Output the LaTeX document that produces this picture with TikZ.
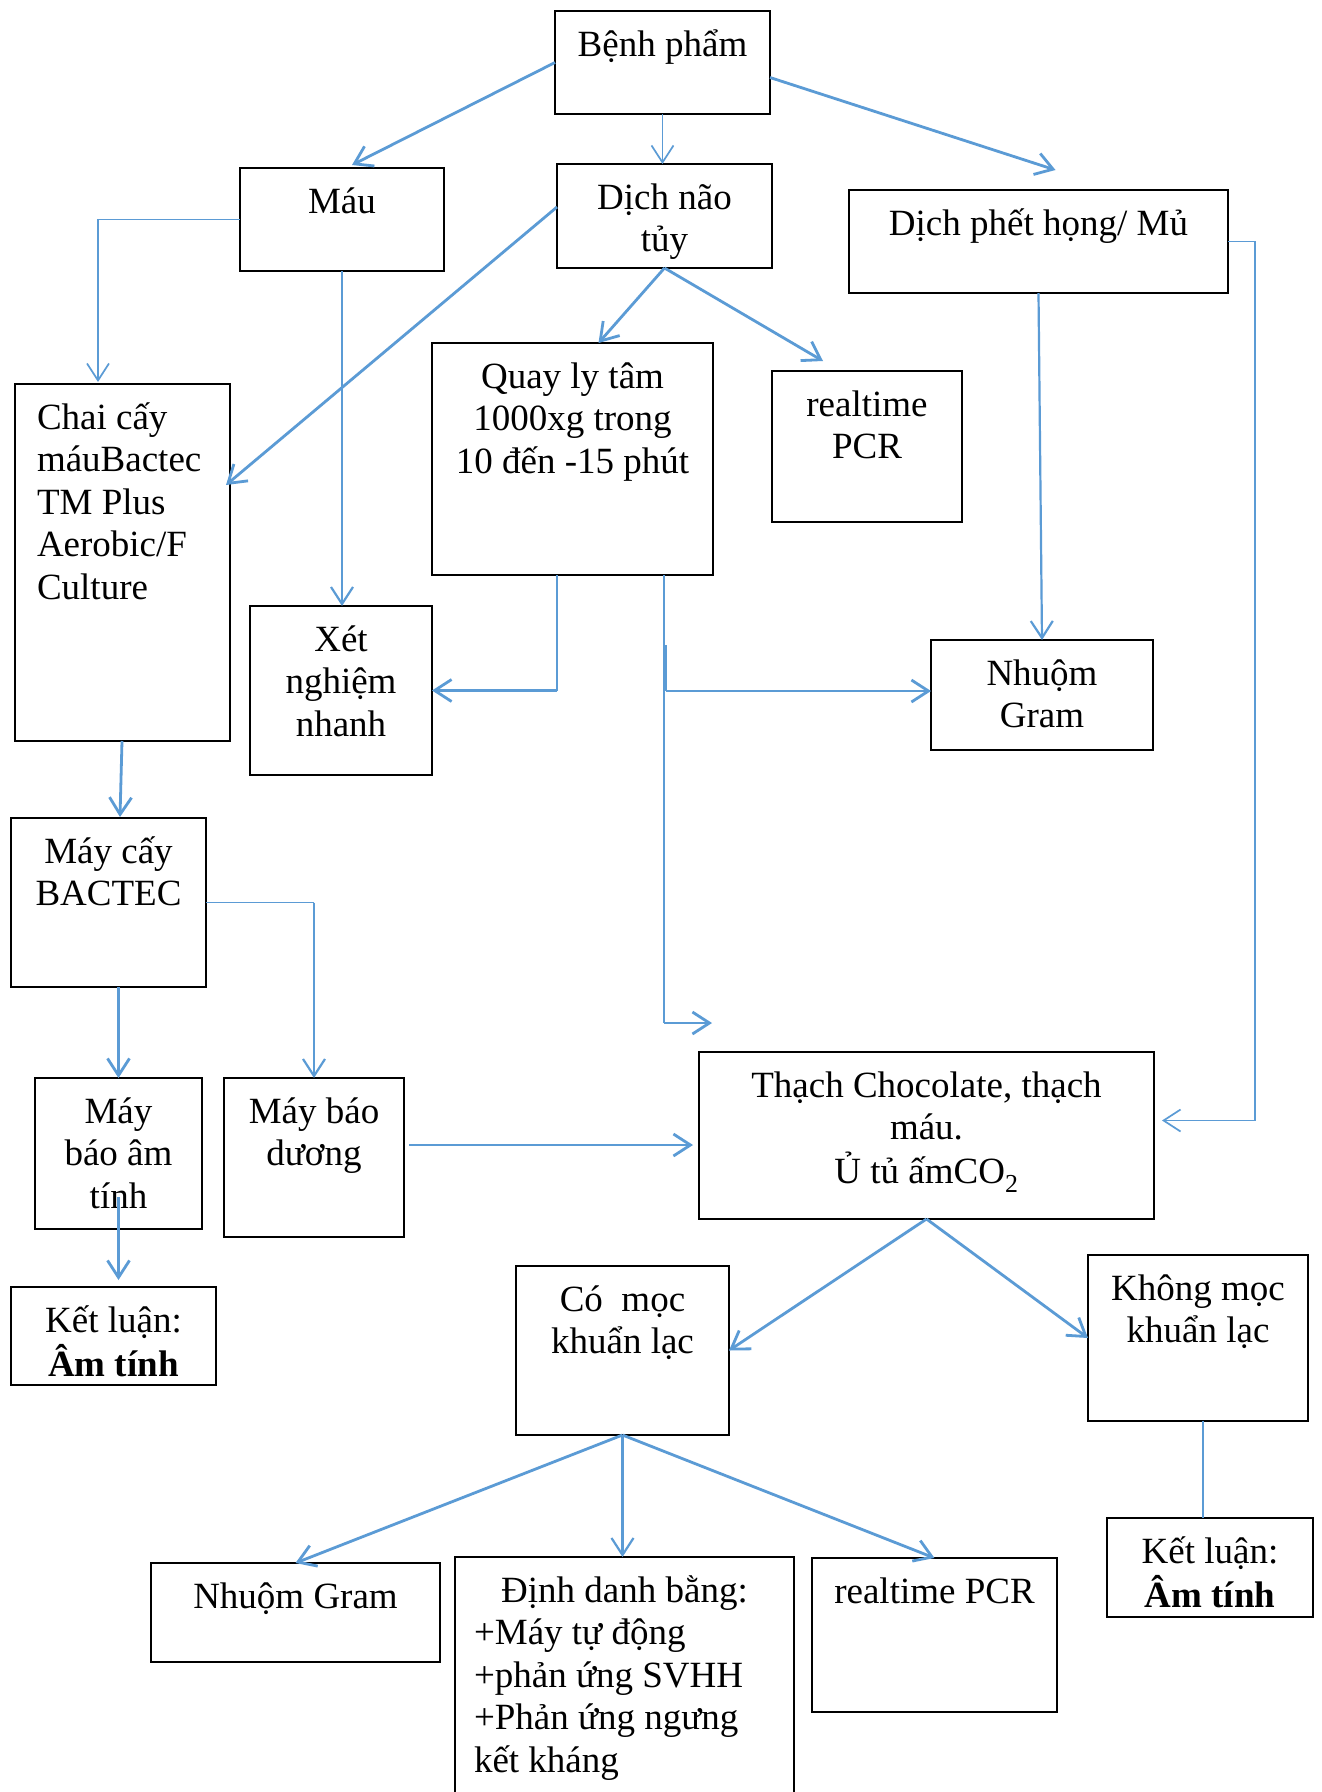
\documentclass[tikz,border=0pt]{standalone}
\usepackage{fontspec}
\setmainfont{Liberation Serif}
\usetikzlibrary{arrows.meta,calc}
\definecolor{linkblue}{RGB}{91,155,213}
% multi-line text whose baseline is that of its first line
\newcommand\mlc[1]{\begin{tabular}[t]{@{}c@{}}#1\end{tabular}}
\newcommand\mll[1]{\begin{tabular}[t]{@{}l@{}}#1\end{tabular}}
\begin{document}
\begin{tikzpicture}[x=1pt,y=-1pt,
  box/.style={draw=black, line width=2.2pt, inner sep=0pt, outer sep=0pt, anchor=north west},
  lbl/.style={inner sep=0pt, outer sep=0pt, anchor=base, font=\fontsize{37}{42.5}\selectfont},
  lbll/.style={lbl, anchor=base west},
  link/.style={draw=linkblue, line width=2.8pt},
  midlink/.style={draw=linkblue, line width=2.2pt},
  thinlink/.style={draw=linkblue, line width=1.7pt},
  pointer/.style={-{Straight Barb[length=17pt,width=22pt]}},
]
\useasboundingbox (0,0) rectangle (1322,1792);
\fill[white] (0,0) rectangle (1322,1792);
\clip (0,0) rectangle (1322,1792);

% ---- boxes ----
\node[box, minimum width=215pt, minimum height=103pt] (benh) at (555,11) {};
\node[box, minimum width=204pt, minimum height=103pt] (mau) at (240,168) {};
\node[box, minimum width=215pt, minimum height=104pt] (dnt) at (557,164) {};
\node[box, minimum width=379pt, minimum height=103pt] (dph) at (849,190) {};
\node[box, minimum width=215pt, minimum height=357pt] (chai) at (15,384) {};
\node[box, minimum width=281pt, minimum height=232pt] (quay) at (432,343) {};
\node[box, minimum width=190pt, minimum height=151pt] (pcra) at (772,371) {};
\node[box, minimum width=182pt, minimum height=169pt] (xet) at (250,606) {};
\node[box, minimum width=222pt, minimum height=110pt] (grama) at (931,640) {};
\node[box, minimum width=195pt, minimum height=169pt] (maycay) at (11,818) {};
\node[box, minimum width=167pt, minimum height=151pt] (baoam) at (35,1078) {};
\node[box, minimum width=180pt, minimum height=159pt] (baoduong) at (224,1078) {};
\node[box, minimum width=455pt, minimum height=167pt] (thach) at (699,1052) {};
\node[box, minimum width=205pt, minimum height=98pt] (kla) at (11,1287) {};
\node[box, minimum width=213pt, minimum height=169pt] (comoc) at (516,1266) {};
\node[box, minimum width=220pt, minimum height=166pt] (khongmoc) at (1088,1255) {};
\node[box, minimum width=206pt, minimum height=99pt] (klb) at (1107,1518) {};
\node[box, minimum width=289pt, minimum height=99pt] (gramb) at (151,1563) {};
\node[box, minimum width=339pt, minimum height=260pt] (dinh) at (455,1557) {};
\node[box, minimum width=245pt, minimum height=154pt] (pcrb) at (812,1558) {};

% ---- texts ----
\node[lbl] (benh-t) at ($(benh.north)+(0,45)$) {Bệnh phẩm};
\node[lbl] (mau-t) at ($(mau.north)+(0,45)$) {Máu};
\node[lbl] (dnt-t) at ($(dnt.north)+(0,45)$) {\mlc{Dịch não\\tủy}};
\node[lbl] (dph-t) at ($(dph.north)+(0,45)$) {Dịch phết họng/ Mủ};
\node[lbll] (chai-t) at ($(chai.north west)+(22,45)$) {\mll{Chai cấy\\máuBactec\\TM Plus\\Aerobic/F\\Culture}};
\node[lbl] (quay-t) at ($(quay.north)+(0,45)$) {\mlc{Quay ly tâm\\1000xg trong\\10 đến -15 phút}};
\node[lbl] (pcra-t) at ($(pcra.north)+(0,45)$) {\mlc{realtime\\PCR}};
\node[lbl] (xet-t) at ($(xet.north)+(0,45)$) {\mlc{Xét\\nghiệm\\nhanh}};
\node[lbl] (grama-t) at ($(grama.north)+(0,45)$) {\mlc{Nhuộm\\Gram}};
\node[lbl] (maycay-t) at ($(maycay.north)+(0,45)$) {\mlc{Máy cấy\\BACTEC}};
\node[lbl] (baoam-t) at ($(baoam.north)+(0,45)$) {\mlc{Máy\\báo âm\\tính}};
\node[lbl] (baoduong-t) at ($(baoduong.north)+(0,45)$) {\mlc{Máy báo\\dương}};
\node[lbl] (thach-t) at ($(thach.north)+(0,45)$) {\mlc{Thạch Chocolate, thạch\\máu.\\Ủ tủ ấmCO\textsubscript{2}}};
\node[lbl] (kla-t) at ($(kla.north)+(0,45)$) {\mlc{Kết luận:\\\textbf{Âm tính}}};
\node[lbl] (comoc-t) at ($(comoc.north)+(0,45)$) {\mlc{Có\ \ mọc\\khuẩn lạc}};
\node[lbl] (khongmoc-t) at ($(khongmoc.north)+(0,45)$) {\mlc{Không mọc\\khuẩn lạc}};
\node[lbl] (klb-t) at ($(klb.north)+(0,45)$) {\mlc{Kết luận:\\\textbf{Âm tính}}};
\node[lbl] (gramb-t) at ($(gramb.north)+(0,45)$) {Nhuộm Gram};
\node[lbl] (dinh-t) at ($(dinh.north)+(0,45)$) {Định danh bằng:};
\node[lbll] (dinh-l) at ($(dinh.north west)+(19,87.5)$) {\mll{+Máy tự động\\+phản ứng SVHH\\+Phản ứng ngưng\\kết kháng}};
\node[lbl] (pcrb-t) at ($(pcrb.north)+(0,45)$) {realtime PCR};

% ---- specimen to its three kinds ----
\draw[link,pointer] (benh.west) -- ($(mau.north)+(10,-3)$);
\draw[thinlink,pointer] (benh.south) -- (benh.south |- dnt.north);
\draw[link,pointer] ($(benh.east)+(0,15)$) -- ($(dph.north)+(17,-20)$);

% ---- blood ----
\draw[thinlink,pointer] (mau.west) -| ($(chai.north west)+(83,-2)$);
\draw[midlink,pointer] (mau.south) -- (mau.south |- xet.north);

% ---- cerebrospinal fluid ----
\draw[link,pointer] ($(dnt.west)+(0,-9)$) -- ($(chai.north east)+(-4,101)$);
\draw[link,pointer] (dnt.south) -- ($(quay.north)+(26,0)$);
\draw[link,pointer] (dnt.south) -- ($(pcra.north)+(-44,-10)$);

% ---- throat swab / pus ----
\draw[midlink,pointer] (dph.south) -- (grama.north);
\draw[thinlink,pointer] (dph.east) -- ++(27,0) |- ($(thach.east)+(8,-15)$);

% ---- after centrifuging ----
\coordinate (qa) at ($(quay.south west)+(125,0)$);
\draw[thinlink] (qa) -- (qa |- xet.east);
\draw[link,pointer] (qa |- xet.east) -- (xet.east);

\coordinate (qb) at ($(quay.south west)+(232,0)$);
\coordinate (qend) at (712,1023);
\draw[thinlink] (qb) -- (qb |- qend);
\draw[link,pointer] (qb |- qend) -- (qend);

\coordinate (gs) at (666,645);
\coordinate (gw) at ($(grama.west)+(0,-4)$);
\draw[thinlink] (gs) -- (gs |- gw);
\draw[link,pointer] (gs |- gw) -- (gw);

% ---- blood culture chain ----
\draw[link,pointer] ($(chai.south west)+(107,0)$) -- ($(maycay.north west)+(109,-1)$);
\draw[link,pointer] (baoam.north |- maycay.south) -- (baoam.north);
\draw[thinlink] (maycay.east) -- (maycay.east -| baoduong.north);
\draw[midlink,pointer] (maycay.east -| baoduong.north) -- (baoduong.north);
\draw[link,pointer] ($(baoduong.east)+(5,-12.5)$) -- ($(thach.west)+(-6,9.5)$);
\draw[link,pointer] ($(baoam.south)+(0,-32)$) -- ($(kla.north)+(5,-7)$);

% ---- culture results ----
\draw[link,pointer] (thach.south) -- (comoc.east);
\draw[link,pointer] (thach.south) -- (khongmoc.west);
\draw[link] ($(khongmoc.south)+(5,0)$) -- ($(klb.north)+(-7,0)$);

\draw[link,pointer] (comoc.south) -- (gramb.north);
\draw[midlink,pointer] (comoc.south) -- (comoc.south |- dinh.north);
\draw[link,pointer] (comoc.south) -- (pcrb.north);
\end{tikzpicture}
\end{document}
